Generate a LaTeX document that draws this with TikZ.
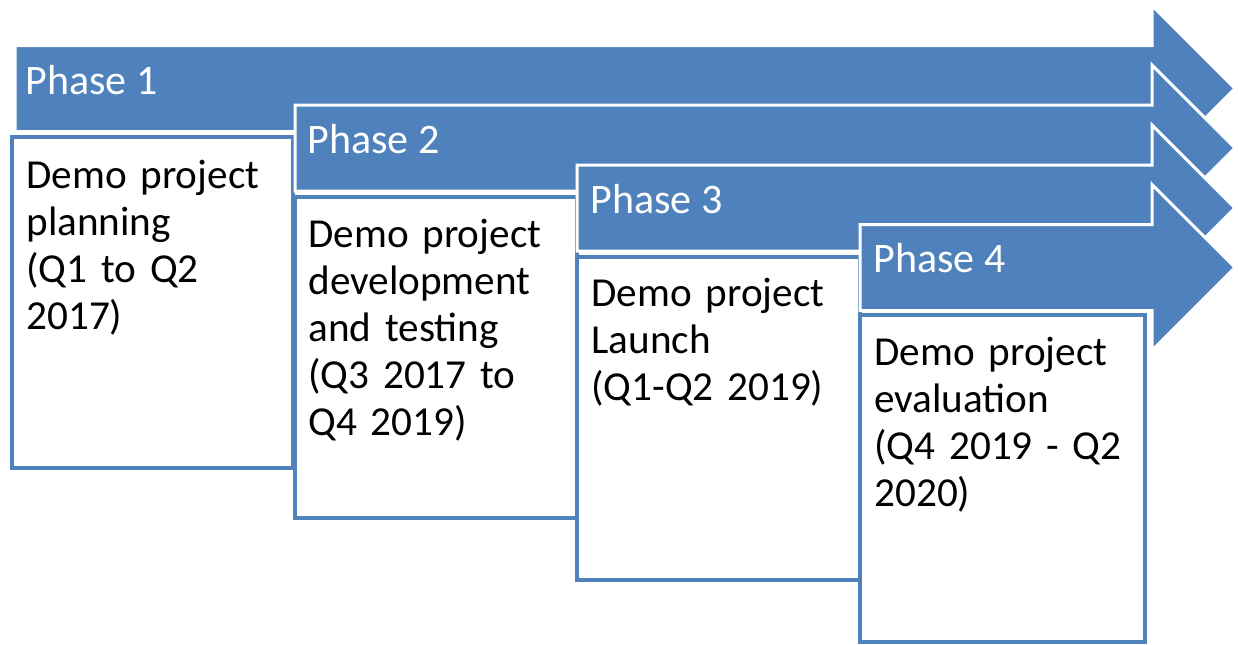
\documentclass[tikz,border=0pt]{standalone}
\usepackage{fontspec}
\setmainfont{Carlito}
\usepackage{xcolor}
\usepackage{tikz}
\definecolor{phaseblue}{HTML}{4F81BD}
\newcommand*{\stagefont}{\fontsize{20.6}{23.5}\selectfont\fontdimen2\font=3.8pt\relax}
% one chevron-ended band: #1 left x, #2 centre y
\newcommand*{\phasearrow}[2]{\filldraw[phase](#1,#2-43)--(1152,#2-43)--(1152,#2-83)--(1235,#2)--(1152,#2+83)--(1152,#2+43)--(#1,#2+43)--cycle;}
\tikzset{
  phase/.style={fill=phaseblue,draw=white,line width=1.5pt,line join=miter},
  stage/.style={fill=white,draw=phaseblue,line width=2pt},
  phasetext/.style={anchor=base west,inner sep=0pt,text=white,font=\fontsize{21}{23.5}\selectfont},
  stagetext/.style={anchor=base west,inner sep=0pt,align=left,text width=130pt,font=\stagefont}
}

\begin{document}
\begin{tikzpicture}[x=0.5pt,y=-0.5pt]
\useasboundingbox(0,0)rectangle(1238,644);

\phasearrow{15}{88.5}
\node[phasetext](p1)at(25,94){Phase 1};
\draw[stage](12,137)rectangle(293,468);
\node[stagetext](s1)at(26,188){Demo project\\planning\\(Q1 to Q2\\2017)};

\phasearrow{295}{148}
\node[phasetext](p2)at(307,153){Phase 2};
\draw[stage](295,197)rectangle(577,518);
\node[stagetext](s2)at(308,247){Demo project\\development\\and testing\\(Q3 2017 to\\Q4 2019)};

\phasearrow{577}{208}
\node[phasetext](p3)at(590,213){Phase 3};
\draw[stage](577,257)rectangle(860,580);
\node[stagetext](s3)at(591,306){Demo project\\Launch\\(Q1-Q2 2019)};

\phasearrow{860}{267.5}
\node[phasetext](p4)at(873,272){Phase 4};
\draw[stage](860,315)rectangle(1145,642);
\node[stagetext](s4)at(874,365){Demo project\\evaluation\\(Q4 2019 - Q2\\2020)};

\end{tikzpicture}
\end{document}
